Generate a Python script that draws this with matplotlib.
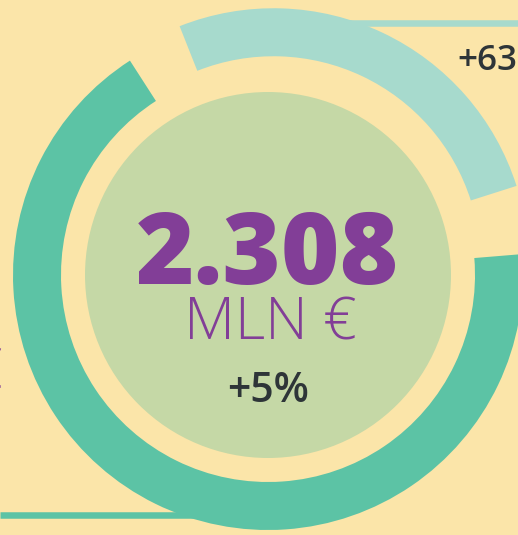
import matplotlib.pyplot as plt
from matplotlib.patches import Circle

# ============== data ==============
# ring slices, going counter-clockwise from the right (percent of full turn);
# the two "gap" entries are the empty spaces between the coloured arcs
slice_names = ["gap", "share_a", "gap", "share_b"]
slice_values = [3.6, 26.1, 3.1, 67.2]

total_value = "2.308"
total_unit = "MLN €"
total_change = "+5%"
share_a_label = "+63%"
share_b_label = "MLN €"

# ============== style ==============
BG = "#FBE5A9"
DARK_GREEN = "#5CC3A5"
LIGHT_TEAL = "#A7DACD"
INNER = "#C5D8A6"
PURPLE = "#823E97"
TEXT_DARK = "#2E3538"

W, H = 518, 535
DPI = 100
PX = 72 / DPI  # pixels -> points

cx, cy = 268, H - 275
r_out, ring_w = 255, 48
start_deg = 4.7

slice_colors = ["none", LIGHT_TEAL, "none", DARK_GREEN]
explode = [0, 13, 0, 0]

fig = plt.figure(figsize=(W / DPI, H / DPI), dpi=DPI, facecolor=BG)
ax = fig.add_axes([0, 0, 1, 1])
ax.set_facecolor(BG)

# thin connector lines running behind the ring
ax.plot([300, W], [H - 22.5, H - 22.5], color=LIGHT_TEAL, lw=6.5 * PX,
        solid_capstyle="butt", zorder=1)
ax.plot([0, 220], [H - 515, H - 515], color=DARK_GREEN, lw=6.5 * PX,
        solid_capstyle="butt", zorder=1)

wedges, _ = ax.pie(slice_values, colors=slice_colors, explode=explode,
                   radius=r_out, center=(cx, cy), startangle=start_deg,
                   counterclock=True, frame=False,
                   wedgeprops=dict(width=ring_w, linewidth=0))
for w in wedges:
    w.set_zorder(2)

ax.add_patch(Circle((cx, cy), 183, color=INNER, lw=0, zorder=3))

fam = ["Open Sans", "DejaVu Sans"]
ax.text(267.5, H - 284, total_value, ha="center", va="baseline",
        fontsize=100 * PX, fontweight="heavy", color=PURPLE, family=fam, zorder=4)
ax.text(270, H - 339, total_unit, ha="center", va="baseline",
        fontsize=59 * PX, fontweight=300, color=PURPLE, family=fam, zorder=4)
ax.text(268.5, H - 402, total_change, ha="center", va="baseline",
        fontsize=41 * PX, fontweight="semibold", color=TEXT_DARK, family=fam, zorder=4)

# labels of the two slices (cut by the picture edge)
ax.text(457, H - 70, share_a_label, ha="left", va="baseline",
        fontsize=35 * PX, fontweight="semibold", color=TEXT_DARK, family=fam, zorder=4)
ax.text(3, H - 390, share_b_label, ha="right", va="baseline",
        fontsize=59 * PX, fontweight=300, color=PURPLE, family=fam, zorder=4)

ax.set_xlim(0, W)
ax.set_ylim(0, H)
ax.set_aspect("equal")
ax.axis("off")

fig.savefig("out.png", dpi=DPI, facecolor=BG)
